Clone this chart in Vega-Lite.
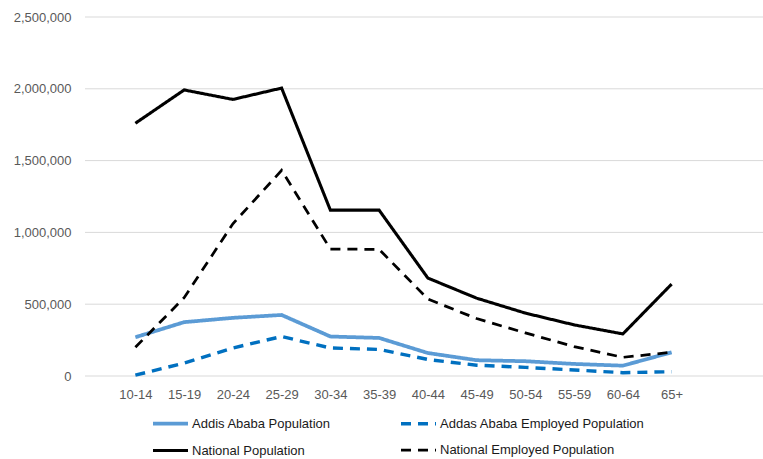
{
  "$schema": "https://vega.github.io/schema/vega-lite/v6.json",
  "width": 678,
  "height": 359,
  "autosize": "none",
  "padding": {"left": 85, "top": 17, "right": 0, "bottom": 83},
  "background": "white",
  "datasets": {
    "gridValues": [
      {"tick": 0}, {"tick": 500000}, {"tick": 1000000},
      {"tick": 1500000}, {"tick": 2000000}, {"tick": 2500000}
    ],
    "population": [
      {"age": "10-14", "series": "Addis Ababa Population", "value": 270000},
      {"age": "15-19", "series": "Addis Ababa Population", "value": 375000},
      {"age": "20-24", "series": "Addis Ababa Population", "value": 405000},
      {"age": "25-29", "series": "Addis Ababa Population", "value": 425000},
      {"age": "30-34", "series": "Addis Ababa Population", "value": 275000},
      {"age": "35-39", "series": "Addis Ababa Population", "value": 265000},
      {"age": "40-44", "series": "Addis Ababa Population", "value": 160000},
      {"age": "45-49", "series": "Addis Ababa Population", "value": 110000},
      {"age": "50-54", "series": "Addis Ababa Population", "value": 103000},
      {"age": "55-59", "series": "Addis Ababa Population", "value": 84000},
      {"age": "60-64", "series": "Addis Ababa Population", "value": 72000},
      {"age": "65+", "series": "Addis Ababa Population", "value": 165000},
      {"age": "10-14", "series": "Addas Ababa Employed Population", "value": 6000},
      {"age": "15-19", "series": "Addas Ababa Employed Population", "value": 90000},
      {"age": "20-24", "series": "Addas Ababa Employed Population", "value": 195000},
      {"age": "25-29", "series": "Addas Ababa Employed Population", "value": 275000},
      {"age": "30-34", "series": "Addas Ababa Employed Population", "value": 195000},
      {"age": "35-39", "series": "Addas Ababa Employed Population", "value": 185000},
      {"age": "40-44", "series": "Addas Ababa Employed Population", "value": 115000},
      {"age": "45-49", "series": "Addas Ababa Employed Population", "value": 75000},
      {"age": "50-54", "series": "Addas Ababa Employed Population", "value": 60000},
      {"age": "55-59", "series": "Addas Ababa Employed Population", "value": 42000},
      {"age": "60-64", "series": "Addas Ababa Employed Population", "value": 23000},
      {"age": "65+", "series": "Addas Ababa Employed Population", "value": 30000},
      {"age": "10-14", "series": "National Population", "value": 1760000},
      {"age": "15-19", "series": "National Population", "value": 1992000},
      {"age": "20-24", "series": "National Population", "value": 1926000},
      {"age": "25-29", "series": "National Population", "value": 2005000},
      {"age": "30-34", "series": "National Population", "value": 1155000},
      {"age": "35-39", "series": "National Population", "value": 1155000},
      {"age": "40-44", "series": "National Population", "value": 682000},
      {"age": "45-49", "series": "National Population", "value": 542000},
      {"age": "50-54", "series": "National Population", "value": 438000},
      {"age": "55-59", "series": "National Population", "value": 356000},
      {"age": "60-64", "series": "National Population", "value": 293000},
      {"age": "65+", "series": "National Population", "value": 640000},
      {"age": "10-14", "series": "National Employed Population", "value": 200000},
      {"age": "15-19", "series": "National Employed Population", "value": 545000},
      {"age": "20-24", "series": "National Employed Population", "value": 1060000},
      {"age": "25-29", "series": "National Employed Population", "value": 1432000},
      {"age": "30-34", "series": "National Employed Population", "value": 884000},
      {"age": "35-39", "series": "National Employed Population", "value": 882000},
      {"age": "40-44", "series": "National Employed Population", "value": 536000},
      {"age": "45-49", "series": "National Employed Population", "value": 400000},
      {"age": "50-54", "series": "National Employed Population", "value": 300000},
      {"age": "55-59", "series": "National Employed Population", "value": 205000},
      {"age": "60-64", "series": "National Employed Population", "value": 130000},
      {"age": "65+", "series": "National Employed Population", "value": 165000}
    ]
  },
  "layer": [
    {
      "data": {"name": "gridValues"},
      "mark": {"type": "rule", "color": "#d9d9d9", "strokeWidth": 1},
      "encoding": {
        "y": {"field": "tick", "type": "quantitative", "scale": {"domain": [0, 2500000], "nice": false}}
      }
    },
    {
      "data": {"name": "population"},
      "mark": {"type": "line", "strokeCap": "butt", "strokeJoin": "miter"},
      "encoding": {
        "x": {
          "field": "age",
          "type": "ordinal",
          "sort": null,
          "scale": {"type": "point", "range": [26, 611]},
          "axis": {
            "title": null,
            "domain": false,
            "ticks": false,
            "grid": false,
            "labelAngle": 0,
            "labelPadding": 12,
            "labelFont": "Liberation Sans",
            "labelFontSize": 13,
            "labelColor": "#595959"
          }
        },
        "y": {
          "field": "value",
          "type": "quantitative",
          "scale": {"domain": [0, 2500000], "nice": false},
          "axis": {
            "title": null,
            "domain": false,
            "ticks": false,
            "grid": false,
            "values": [0, 500000, 1000000, 1500000, 2000000, 2500000],
            "format": ",d",
            "labelPadding": 14,
            "labelFont": "Liberation Sans",
            "labelFontSize": 13,
            "labelColor": "#595959"
          }
        },
        "color": {
          "field": "series",
          "type": "nominal",
          "scale": {
            "domain": ["Addis Ababa Population", "Addas Ababa Employed Population", "National Population", "National Employed Population"],
            "range": ["#5b9bd5", "#0070c0", "#000000", "#000000"]
          },
          "legend": {
            "title": null,
            "orient": "none",
            "direction": "horizontal",
            "legendX": 66,
            "legendY": 387,
            "columns": 2,
            "columnPadding": 63,
            "rowPadding": 0,
            "symbolType": "stroke",
            "symbolSize": 1225,
            "labelOffset": 2,
            "labelFont": "Liberation Sans",
            "labelFontSize": 13,
            "labelColor": "#1a1a1a",
            "labelLimit": 300,
            "padding": 0
          }
        },
        "strokeDash": {
          "field": "series",
          "type": "nominal",
          "scale": {
            "domain": ["Addis Ababa Population", "Addas Ababa Employed Population", "National Population", "National Employed Population"],
            "range": [[1, 0], [10, 7], [1, 0], [10, 7]]
          },
          "legend": null
        },
        "strokeWidth": {
          "field": "series",
          "type": "nominal",
          "scale": {
            "domain": ["Addis Ababa Population", "Addas Ababa Employed Population", "National Population", "National Employed Population"],
            "range": [3.75, 2.75, 2.5, 2.5]
          },
          "legend": null
        }
      }
    }
  ],
  "config": {
    "view": {"stroke": null}
  }
}
